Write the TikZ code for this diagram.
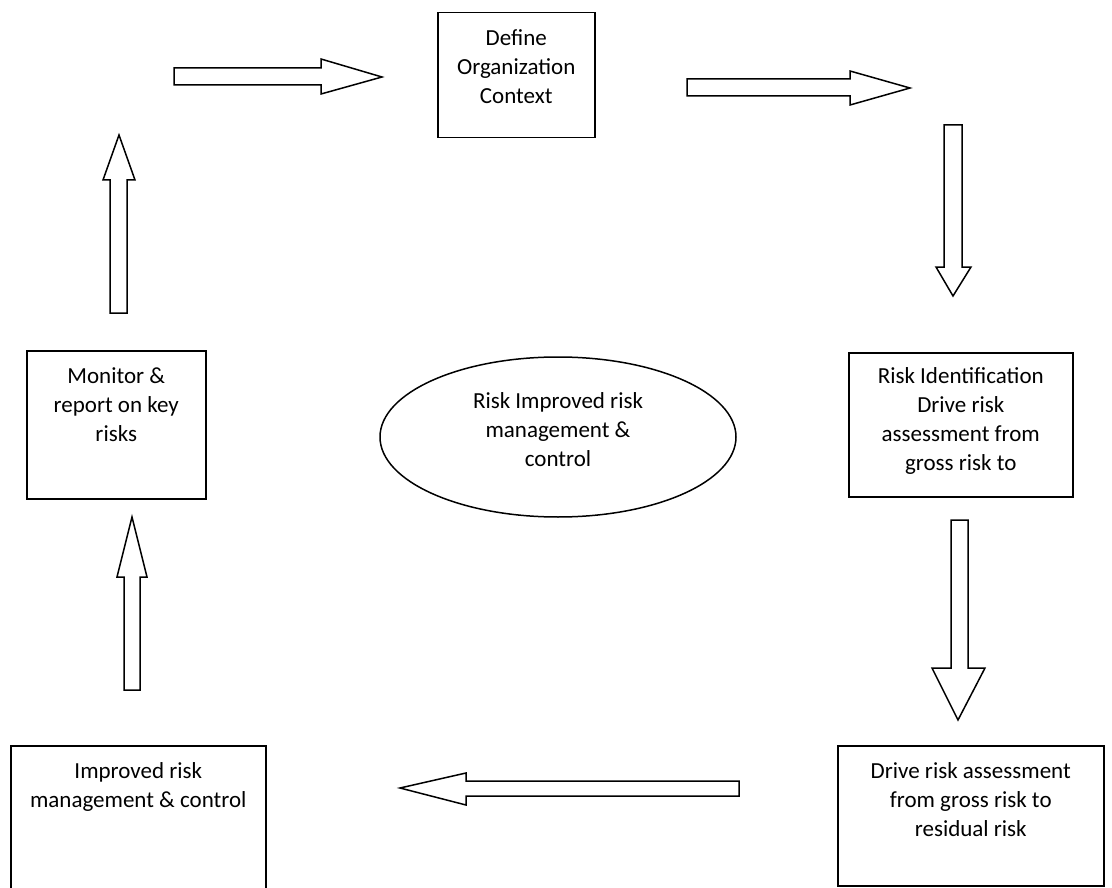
\documentclass[tikz,border=0pt]{standalone}
\usepackage{fontspec}
\setmainfont{Carlito}
\usetikzlibrary{shapes.geometric}
\begin{document}
\begin{tikzpicture}[x=1pt,y=-1pt,
  box/.style={draw,line width=1.5pt,inner sep=0pt,anchor=north west},
  txt/.style={align=center,font=\fontsize{23}{29}\selectfont,inner sep=0pt,anchor=north},
  barrow/.style={draw,line width=1.5pt,line join=miter,fill=white}]
\useasboundingbox (0,0) rectangle (1112,888);
\clip (0,0) rectangle (1112,888);
% boxes
\node[box,minimum width=157pt,minimum height=125pt] (def) at (437,12) {};
\node[txt] (deft) at (def.north |- 0,29) {Define\\Organization\\Context};
\node[box,minimum width=224pt,minimum height=144pt] (rid) at (848,352) {};
\node[txt] (ridt) at (rid.north |- 0,367) {Risk Identification\\Drive risk\\assessment from\\gross risk to};
\node[box,minimum width=179pt,minimum height=148pt] (mon) at (26,350) {};
\node[txt] (mont) at (mon.north |- 0,367) {Monitor \&\\report on key\\risks};
\node[box,minimum width=255pt,minimum height=150pt] (imp) at (10,745) {};
\node[txt] (impt) at (imp.north |- 0,762) {Improved risk\\management \& control};
\node[box,minimum width=266pt,minimum height=140pt] (drv) at (837,745) {};
\node[txt] (drvt) at (drv.north |- 0,762) {Drive risk assessment\\from gross risk to\\residual risk};
% ellipse
\node[draw,ellipse,line width=1.5pt,minimum width=356pt,minimum height=160pt,inner sep=0pt] (ell) at (558,437) {};
\node[txt] (ellt) at (ell.north |- 0,392) {Risk Improved risk\\management \&\\control};
% block arrows
\draw[barrow] (174,68) -- (321,68) -- (321,59) -- (382,77) -- (321,94) -- (321,85) -- (174,85) -- cycle;
\draw[barrow] (687,79) -- (850,79) -- (850,71) -- (910,88) -- (850,105) -- (850,96) -- (687,96) -- cycle;
\draw[barrow] (944,125) -- (962,125) -- (962,267) -- (971,267) -- (953,296) -- (936,267) -- (944,267) -- cycle;
\draw[barrow] (951,520) -- (968,520) -- (968,668) -- (985,668) -- (958,720) -- (932,668) -- (951,668) -- cycle;
\draw[barrow] (739,781) -- (466,781) -- (466,773) -- (400,788) -- (466,805) -- (466,796) -- (739,796) -- cycle;
\draw[barrow] (124,690) -- (140,690) -- (140,577) -- (147,577) -- (132,517) -- (117,577) -- (124,577) -- cycle;
\draw[barrow] (110,313) -- (127,313) -- (127,180) -- (135,180) -- (119,135) -- (103,180) -- (110,180) -- cycle;
\end{tikzpicture}
\end{document}
